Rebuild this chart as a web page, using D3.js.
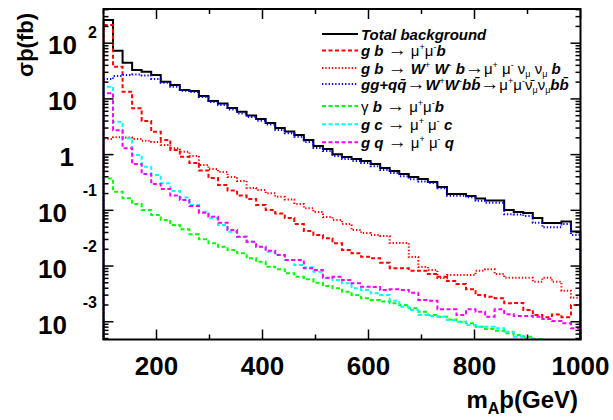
<!DOCTYPE html>
<html>
<head>
<meta charset="utf-8">
<title>sigma vs mA</title>
<script src="https://cdn.jsdelivr.net/npm/d3@7"></script>
<style>
  body { margin: 0; background: #fff; }
  svg { display: block; }
</style>
</head>
<body>
<div id="chart"></div>
<script>
// 50 bins of 18 GeV between 100 and 1000 GeV
const binEdges = d3.range(100, 1001, 18);

// cross sections in fb, one value per bin
const totalBkg = [261, 73.3, 44.7, 33.0, 30.8, 26.9, 20.4, 17.8, 14.4, 13.9,
  11.3, 9.17, 8.27, 6.87, 5.89, 5.04, 4.36, 3.69, 3.00, 2.60,
  2.25, 1.83, 1.43, 1.26, 1.02, 0.905, 0.834, 0.768, 0.678, 0.575,
  0.508, 0.449, 0.396, 0.365, 0.322, 0.262, 0.196, 0.196, 0.181, 0.163,
  0.150, 0.150, 0.101, 0.0932, 0.0895, 0.0727, 0.0592, 0.0592, 0.0629, 0.0416];

const gbMuMuB = [212, 37.8, 13.5, 6.78, 4.01, 2.58, 1.83, 1.21, 0.917, 0.707,
  0.518, 0.380, 0.285, 0.227, 0.184, 0.160, 0.125, 0.101, 0.0876, 0.0727,
  0.0568, 0.0425, 0.036, 0.0314, 0.0256, 0.0194, 0.0169, 0.0147, 0.0138, 0.0115,
  0.0091, 0.0091, 0.00824, 0.0082, 0.00718, 0.00643, 0.00538, 0.00475, 0.00382, 0.00301,
  0.00281, 0.00263, 0.00214, 0.00217, 0.00162, 0.00132, 0.00121, 0.00135, 0.00121, 0.00200];

const gbWWb = [1.91, 2.05, 2.03, 1.91, 1.78, 1.68, 1.49, 1.30, 1.13, 0.944,
  0.651, 0.551, 0.487, 0.396, 0.336, 0.251, 0.231, 0.202, 0.175, 0.157,
  0.130, 0.109, 0.0932, 0.0758, 0.0670, 0.0568, 0.0443, 0.0391, 0.0360, 0.0346,
  0.0259, 0.0259, 0.0145, 0.0096, 0.00848, 0.00609, 0.00689, 0.00689, 0.00689, 0.00824,
  0.00873, 0.00718, 0.00616, 0.00616, 0.00616, 0.00522, 0.00616, 0.00522, 0.00360, 0.00270];

const ggWWbb = [22.8, 25.8, 26.9, 27.4, 26.3, 22.8, 19.5, 16.6, 14.0, 13.3,
  10.8, 8.80, 7.77, 6.45, 5.47, 4.73, 4.06, 3.47, 2.76, 2.41,
  2.10, 1.68, 1.32, 1.16, 0.94, 0.83, 0.77, 0.71, 0.62, 0.53,
  0.47, 0.41, 0.36, 0.33, 0.309, 0.248, 0.183, 0.183, 0.171, 0.149,
  0.137, 0.137, 0.0848, 0.0844, 0.079, 0.0599, 0.0495, 0.0495, 0.0568, 0.036];

const gammaBMuMuB = [0.372, 0.216, 0.164, 0.130, 0.101, 0.0823, 0.0670, 0.0545, 0.0456, 0.0371,
  0.0302, 0.0256, 0.0222, 0.0194, 0.0169, 0.0138, 0.0119, 0.0097, 0.00873, 0.00740,
  0.00643, 0.00577, 0.00501, 0.00437, 0.00398, 0.00346, 0.00301, 0.00263, 0.00245, 0.00231,
  0.00214, 0.00200, 0.00174, 0.00151, 0.00132, 0.00123, 0.00110, 0.00100, 0.000936, 0.000813,
  0.000740, 0.000689, 0.000619, 0.000577, 0.000538, 0.000483, 0, 0, 0, 0];

const gcMuMuC = [16.6, 3.90, 1.96, 0.983, 0.607, 0.430, 0.305, 0.222, 0.170, 0.125,
  0.0944, 0.0718, 0.0545, 0.0413, 0.0336, 0.0273, 0.0222, 0.0181, 0.0157, 0.0128,
  0.0104, 0.00948, 0.00790, 0.00601, 0.00561, 0.00489, 0.00398, 0.00371, 0.00324, 0.00301,
  0.00238, 0.00186, 0.00162, 0.00132, 0.00127, 0.00123, 0.00107, 0.00100, 0.000873, 0.000813,
  0.000813, 0.000762, 0.000661, 0.000538, 0.000504, 0, 0, 0, 0, 0];

const gqMuMuQ = [12.6, 2.73, 1.30, 0.678, 0.449, 0.297, 0.241, 0.184, 0.153, 0.119,
  0.0906, 0.0767, 0.0599, 0.0443, 0.0336, 0.0273, 0.0222, 0.0188, 0.0157, 0.0128,
  0.0128, 0.0091, 0.00848, 0.00616, 0.00643, 0.00561, 0.00489, 0.00425, 0.00420, 0.00371,
  0.00382, 0.00371, 0.00332, 0.00245, 0.00238, 0.00167, 0.00167, 0.00132, 0.00167, 0.00151,
  0.00123, 0.00167, 0.00137, 0.00127, 0.00127, 0.00123, 0.00112, 0.00103, 0.000936, 0.000762];

// legend texts: [text, style] pieces
const legendRows = [
  [["Total background", "bi"]],
  [["g b ", "bi"], ["\u2192", "arr"], [" \u03bc", "r"], ["+", "sup"], ["\u03bc", "r"], ["-", "sup"], ["b", "bi"]],
  [["g b ", "bi"], ["\u2192", "arr"], [" ", "r"], ["W", "bi"], ["+", "sup"], [" W", "bi"], ["-", "sup"], [" b", "bi"],
   ["\u2192", "arr"], ["\u03bc", "r"], ["+", "sup"], [" \u03bc", "r"], ["-", "sup"], [" \u03bd", "r"], ["\u03bc", "sub"],
   [" \u03bd", "r"], ["\u03bc", "sub"], [" b", "bi"]],
  [["gg+qq\u0304", "bi"], ["\u2192", "arr"], ["W", "bi"], ["+", "sup"], ["W", "bi"], ["-", "sup"], ["bb\u0304", "bi"],
   ["\u2192", "arr"], ["\u03bc", "r"], ["+", "sup"], ["\u03bc", "r"], ["-", "sup"], ["\u03bd\u0304", "r"], ["\u03bc", "sub"],
   ["\u03bd", "r"], ["\u03bc", "sub"], ["bb\u0304", "bi"]],
  [["\u03b3", "r"], [" b ", "bi"], ["\u2192", "arr"], [" \u03bc", "r"], ["+", "sup"], ["\u03bc", "r"], ["-", "sup"], ["b", "bi"]],
  [["g c ", "bi"], ["\u2192", "arr"], [" \u03bc", "r"], ["+", "sup"], [" \u03bc", "r"], ["-", "sup"], [" c", "bi"]],
  [["g q ", "bi"], ["\u2192", "arr"], [" \u03bc", "r"], ["+", "sup"], [" \u03bc", "r"], ["-", "sup"], [" q", "bi"]]
];

const series = [
  {values: totalBkg,    color: "#000000", dash: null},
  {values: gbMuMuB,     color: "#ff0000", dash: "4,2.5"},
  {values: gbWWb,       color: "#ff0000", dash: "1.3,2"},
  {values: ggWWbb,      color: "#0000ff", dash: "1.3,2"},
  {values: gammaBMuMuB, color: "#00ff00", dash: "4,2.5"},
  {values: gcMuMuC,     color: "#00ffff", dash: "4,2.5"},
  {values: gqMuMuQ,     color: "#ff00ff", dash: "4,2.5"}
];

const xTickLabels = [200, 400, 600, 800, 1000];
const yMin = 4.8e-4, yMax = 411;

const W = 613, H = 420;
const margin = {top: 9, right: 32.5, bottom: 80.5, left: 103.5};
const w = W - margin.left - margin.right;
const h = H - margin.top - margin.bottom;
const font = "'Liberation Sans', Arial, Helvetica, sans-serif";

const svg = d3.select("#chart").append("svg")
    .attr("width", W).attr("height", H)
    .style("font-family", font);

const g = svg.append("g")
    .attr("transform", "translate(" + margin.left + "," + margin.top + ")");

const xScale = d3.scaleLinear().domain([100, 1000]).range([0, w]);
const yScale = d3.scaleLog().domain([yMin, yMax]).range([h, 0]);

g.append("clipPath").attr("id", "plotclip")
  .append("rect").attr("x", -1).attr("y", -1).attr("width", w + 2).attr("height", h + 1);

// histograms as steps, closed down to the bottom at both ends
function histPath(values) {
  const lo = yMin * 0.5;
  const pts = [[binEdges[0], lo]];
  values.forEach(function(v, i) {
    const vv = Math.max(v, lo);
    pts.push([binEdges[i], vv], [binEdges[i + 1], vv]);
  });
  pts.push([binEdges[binEdges.length - 1], lo]);
  return d3.line().x(d => xScale(d[0])).y(d => yScale(d[1]))(pts);
}

const hists = g.append("g").attr("clip-path", "url(#plotclip)");
series.forEach(function(s) {
  hists.append("path")
    .attr("d", histPath(s.values))
    .attr("fill", "none")
    .attr("stroke", s.color)
    .attr("stroke-width", 2)
    .attr("stroke-dasharray", s.dash);
});

// frame
g.append("rect")
  .attr("width", w).attr("height", h)
  .attr("fill", "none").attr("stroke", "#000").attr("stroke-width", 2);

// x ticks (bottom and top)
xScale.ticks(9).forEach(function(t) {
  const len = (t % 200 === 0) ? 10 : 5;
  const x = xScale(t);
  g.append("line").attr("x1", x).attr("x2", x).attr("y1", h).attr("y2", h - len)
    .attr("stroke", "#000").attr("stroke-width", 1.5);
  g.append("line").attr("x1", x).attr("x2", x).attr("y1", 0).attr("y2", len)
    .attr("stroke", "#000").attr("stroke-width", 1.5);
});

xTickLabels.forEach(function(t) {
  g.append("text")
    .attr("x", xScale(t)).attr("y", h + 35)
    .attr("text-anchor", "middle")
    .attr("font-size", "26px").attr("font-weight", "bold")
    .text(t);
});

// y ticks (left and right)
yScale.ticks().forEach(function(t) {
  const lg = Math.log10(t);
  const major = Math.abs(lg - Math.round(lg)) < 1e-6;
  const len = major ? 10 : 5;
  const y = yScale(t);
  g.append("line").attr("x1", 0).attr("x2", len).attr("y1", y).attr("y2", y)
    .attr("stroke", "#000").attr("stroke-width", 1.5);
  g.append("line").attr("x1", w).attr("x2", w - len).attr("y1", y).attr("y2", y)
    .attr("stroke", "#000").attr("stroke-width", 1.5);
  if (!major) return;
  const k = Math.round(lg);
  const ax = 97 - margin.left;
  if (k === 0) {
    g.append("text").attr("x", ax - 23).attr("y", y + 11)
      .attr("text-anchor", "end").attr("font-size", "26px").attr("font-weight", "bold")
      .text("1");
  } else {
    g.append("text").attr("x", ax - 20 - (k < 0 ? 10 : 0)).attr("y", y + (k < 0 ? 12 : 11))
      .attr("text-anchor", "end").attr("font-size", "26px").attr("font-weight", "bold")
      .text("10");
    if (k !== 1) {
      g.append("text").attr("x", ax).attr("y", y + (k < 0 ? -14 : -5))
        .attr("text-anchor", "end").attr("font-size", "16px").attr("font-weight", "bold")
        .text(k < 0 ? "-" + (-k) : k);
    }
  }
});

// axis titles
const xt = svg.append("text")
  .attr("x", 578).attr("y", 408)
  .attr("text-anchor", "end")
  .attr("font-size", "24px").attr("font-weight", "bold");
xt.append("tspan").text("m");
xt.append("tspan").attr("font-size", "16px").attr("dy", 6).text("A");
xt.append("tspan").attr("dy", -6).text("\u00fe(GeV)");

svg.append("text")
  .attr("transform", "translate(33,13) rotate(-90)")
  .attr("text-anchor", "end")
  .attr("font-size", "22px").attr("font-weight", "bold")
  .text("\u03c3\u00fe(fb)");

// legend
const legendY = [34, 50.5, 68, 84, 106, 124.3, 142.3];
const styles = {
  bi:  {size: 15, weight: "bold", style: "italic", shift: 0},
  r:   {size: 15, weight: "normal", style: "normal", shift: 0},
  arr: {size: 19, weight: "normal", style: "normal", shift: 0},
  sup: {size: 9, weight: "normal", style: "normal", shift: -6},
  sub: {size: 9, weight: "normal", style: "normal", shift: 3}
};

legendRows.forEach(function(row, i) {
  const s = series[i];
  const y = legendY[i];
  svg.append("line")
    .attr("x1", 322).attr("x2", 358).attr("y1", y).attr("y2", y)
    .attr("stroke", s.color).attr("stroke-width", 2)
    .attr("stroke-dasharray", s.dash);
  const txt = svg.append("text")
    .attr("x", 361).attr("y", y + 5.5)
    .style("white-space", "pre");
  let cur = 0;
  row.forEach(function(seg) {
    const st = styles[seg[1]];
    txt.append("tspan")
      .attr("dy", st.shift - cur)
      .attr("font-size", st.size + "px")
      .attr("font-weight", st.weight)
      .attr("font-style", st.style)
      .text(seg[0]);
    cur = st.shift;
  });
});
</script>
</body>
</html>
